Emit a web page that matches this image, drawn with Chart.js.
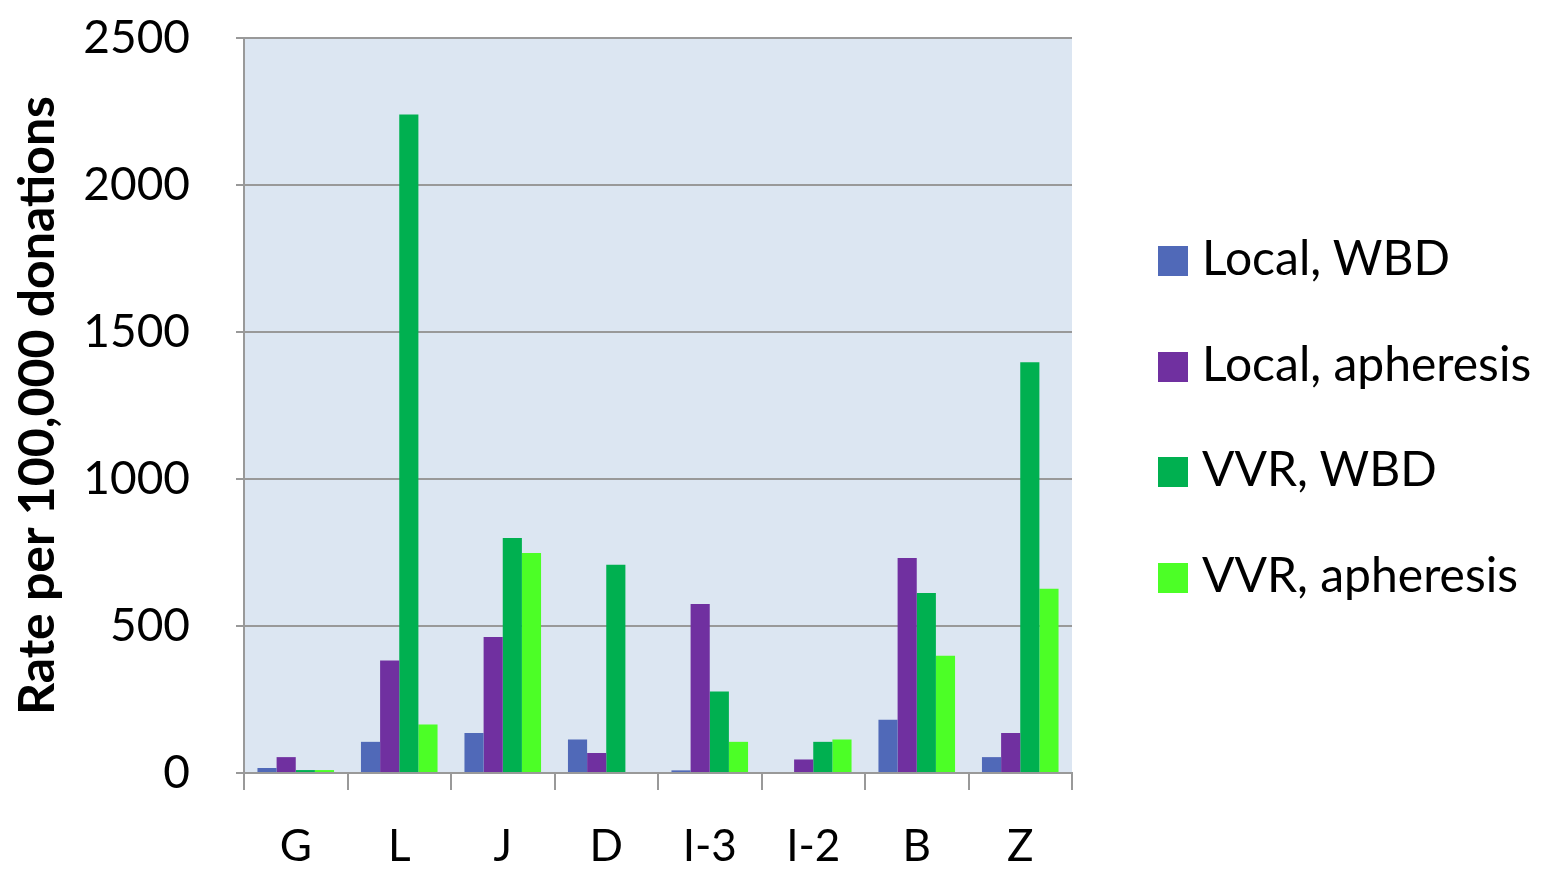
<!DOCTYPE html>
<html lang="en">
<head>
    <meta charset="UTF-8">
    <title>Rate per 100,000 donations</title>
    <script src="https://cdn.jsdelivr.net/npm/chart.js"></script>
    <style>
        body {
            margin: 0;
            padding: 0;
            background: #fff;
            font-family: Lato, sans-serif;
        }

        #wrap {
            position: relative;
            width: 1561px;
            height: 872px;
        }

        #legend {
            position: absolute;
            left: 1158px;
            top: 228px;
            margin: 0;
            padding: 0;
            list-style: none;
        }

        #legend li {
            height: 105.5px;
            font-size: 48px;
            color: #000;
            white-space: nowrap;
        }

        #legend span {
            display: inline-block;
            width: 30px;
            height: 30px;
            margin-right: 14px;
            vertical-align: -1px;
        }
    </style>
</head>
<body>
    <div id="wrap">
        <canvas id="chart" width="1561" height="872"></canvas>
        <ul id="legend"></ul>
    </div>

    <script>
        // categorias e séries
        var sites = ['G', 'L', 'J', 'D', 'I-3', 'I-2', 'B', 'Z'];
        var localWBD = [17, 106, 136, 114, 9, 0, 181, 54];
        var localApheresis = [54, 383, 463, 68, 575, 46, 731, 136];
        var vvrWBD = [10, 2240, 799, 708, 277, 106, 612, 1397];
        var vvrApheresis = [10, 165, 748, 0, 106, 114, 399, 627];
        var yTicks = [0, 500, 1000, 1500, 2000, 2500];

        var seriesNames = ['Local, WBD', 'Local, apheresis', 'VVR, WBD', 'VVR, apheresis'];
        var seriesColors = ['#5069B8', '#7030A0', '#00B050', '#4CFF26'];
        var seriesData = [localWBD, localApheresis, vvrWBD, vvrApheresis];

        // fundo azul claro da área do gráfico
        var plotBackground = {
            id: 'plotBackground',
            beforeDraw: function (chart) {
                var a = chart.chartArea;
                var ctx = chart.ctx;
                ctx.save();
                ctx.fillStyle = '#DCE6F2';
                ctx.fillRect(a.left, a.top, a.right - a.left, a.bottom - a.top);
                ctx.restore();
            }
        };

        var ctx = document.getElementById('chart').getContext('2d');
        var chart = new Chart(ctx, {
            type: 'bar',
            data: {
                labels: sites,
                datasets: seriesNames.map(function (name, i) {
                    return {
                        label: name,
                        data: seriesData[i],
                        backgroundColor: seriesColors[i],
                        borderWidth: 0,
                        categoryPercentage: 0.74,
                        barPercentage: 1.0
                    };
                })
            },
            options: {
                responsive: false,
                animation: false,
                layout: {
                    padding: { left: 0, top: 38, right: 489, bottom: 0 }
                },
                plugins: {
                    legend: { display: false },
                    tooltip: { enabled: false }
                },
                scales: {
                    x: {
                        grid: {
                            offset: true,
                            drawOnChartArea: false,
                            drawTicks: true,
                            tickLength: 17,
                            color: '#999',
                            lineWidth: 2
                        },
                        border: { color: '#999', width: 2 },
                        ticks: {
                            color: '#000',
                            padding: 30,
                            font: { family: 'Lato', size: 44 }
                        },
                        afterFit: function (scale) {
                            scale.height = 99;
                            scale.paddingLeft = 0;
                            scale.paddingRight = 0;
                        }
                    },
                    y: {
                        min: 0,
                        max: 2500,
                        afterBuildTicks: function (scale) {
                            scale.ticks = yTicks.map(function (v) { return { value: v }; });
                        },
                        grid: {
                            color: '#999',
                            lineWidth: 2,
                            tickLength: 8
                        },
                        border: { color: '#999', width: 2 },
                        ticks: {
                            color: '#000',
                            padding: 46,
                            font: { family: 'Lato', size: 46 },
                            callback: function (v) { return String(v); }
                        },
                        title: {
                            display: true,
                            text: 'Rate per 100,000 donations',
                            color: '#000',
                            padding: { top: 8, bottom: 0 },
                            font: { family: 'Lato', size: 50, weight: 'bold' }
                        },
                        afterFit: function (scale) {
                            scale.width = 244;
                            scale.paddingTop = 0;
                            scale.paddingBottom = 0;
                        }
                    }
                }
            },
            plugins: [plotBackground]
        });

        // legenda em HTML
        var legend = document.getElementById('legend');
        seriesNames.forEach(function (name, i) {
            var li = document.createElement('li');
            li.innerHTML = '<span style="background:' + seriesColors[i] + '"></span>' + name;
            legend.appendChild(li);
        });
    </script>
</body>
</html>
